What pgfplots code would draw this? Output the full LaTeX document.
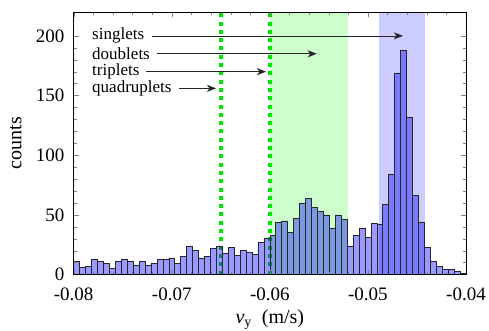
\documentclass[border=0pt]{standalone}
\usepackage{fontspec}
\setmainfont{Liberation Serif}
\usepackage{pgfplots}
\pgfplotsset{compat=1.18}
\usetikzlibrary{arrows.meta}
\definecolor{gshade}{HTML}{CCFFCC}
\definecolor{bshade}{HTML}{CCCCFF}
\definecolor{dgreen}{HTML}{00E600}
\newcommand{\fs}{\fontsize{17}{20}\selectfont}
\newcommand{\ft}{\fontsize{19}{22}\selectfont}
\newcommand{\fl}{\fontsize{20}{24}\selectfont}
\begin{document}
\begin{tikzpicture}
\begin{axis}[
  name=ax,
  scale only axis, width=392.3pt, height=262.5pt,
  xmin=-0.08, xmax=-0.04, ymin=0, ymax=220,
  xtick={-0.08,-0.07,-0.06,-0.05,-0.04},
  ytick={0,50,100,150,200},
  minor x tick num=4, minor y tick num=4,
  tick align=inside, major tick length=5pt, minor tick length=3pt,
  scaled x ticks=false,
  tick label style={font=\ft, inner sep=1pt},
  xticklabel style={yshift=-12pt, /pgf/number format/.cd, fixed, fixed zerofill, precision=2},
  yticklabel style={xshift=-8pt},
  /pgf/number format/assume math mode=true,
  label style={font=\fl},
  xlabel={\textit{v}\textsubscript{y}\ \ (m/s)},
  ylabel={counts},
  xlabel shift=4pt,
  ylabel shift=10pt,
  axis on top,
  clip=false,
]
% shaded regions
\addplot[draw=none, fill=gshade] coordinates {(-0.06,0) (-0.06,220) (-0.052,220) (-0.052,0)} -- cycle;
\addplot[draw=none, fill=bshade] coordinates {(-0.0489,0) (-0.0489,220) (-0.0442,220) (-0.0442,0)} -- cycle;
% dotted lines
\addplot[dgreen, line width=3.5pt, dash pattern=on 4pt off 4.3pt] coordinates {(-0.065,0) (-0.065,220)};
\addplot[dgreen, line width=3.5pt, dash pattern=on 4pt off 4.3pt] coordinates {(-0.06,0) (-0.06,220)};
% histogram
\addplot[ybar interval, fill=blue, fill opacity=0.4, draw=black!85, draw opacity=1, line width=0.6pt] table[row sep=\\] {
x y \\
-0.080000 11 \\
-0.079394 6 \\
-0.078788 7 \\
-0.078182 13 \\
-0.077576 11 \\
-0.076970 9 \\
-0.076364 5 \\
-0.075758 11 \\
-0.075152 13 \\
-0.074545 11 \\
-0.073939 8 \\
-0.073333 11 \\
-0.072727 8 \\
-0.072121 9 \\
-0.071515 13 \\
-0.070909 13 \\
-0.070303 14 \\
-0.069697 9 \\
-0.069091 15 \\
-0.068485 24 \\
-0.067879 20 \\
-0.067273 14 \\
-0.066667 15 \\
-0.066061 22 \\
-0.065455 24 \\
-0.064848 18 \\
-0.064242 23 \\
-0.063636 16 \\
-0.063030 20 \\
-0.062424 19 \\
-0.061818 17 \\
-0.061212 27 \\
-0.060606 30 \\
-0.060000 33 \\
-0.059394 44 \\
-0.058788 45 \\
-0.058182 35 \\
-0.057576 47 \\
-0.056970 60 \\
-0.056364 64 \\
-0.055758 56 \\
-0.055152 53 \\
-0.054545 50 \\
-0.053939 39 \\
-0.053333 50 \\
-0.052727 46 \\
-0.052121 24 \\
-0.051515 33 \\
-0.050909 39 \\
-0.050303 31 \\
-0.049697 43 \\
-0.049091 42 \\
-0.048485 59 \\
-0.047879 84 \\
-0.047273 169 \\
-0.046667 188 \\
-0.046061 132 \\
-0.045455 66 \\
-0.044848 44 \\
-0.044242 23 \\
-0.043636 11 \\
-0.043030 7 \\
-0.042424 4 \\
-0.041818 4 \\
-0.041212 3 \\
-0.040606 1 \\
-0.040000 1 \\
};
% annotations
\draw[-{Stealth[length=9pt,width=7pt,inset=2.5pt]}, line width=0.7pt, black!85] (axis cs:-0.07202,200) -- (axis cs:-0.04643,200);
\draw[-{Stealth[length=9pt,width=7pt,inset=2.5pt]}, line width=0.7pt, black!85] (axis cs:-0.07151,185) -- (axis cs:-0.05522,185);
\draw[-{Stealth[length=9pt,width=7pt,inset=2.5pt]}, line width=0.7pt, black!85] (axis cs:-0.07263,170) -- (axis cs:-0.06039,170);
\draw[-{Stealth[length=9pt,width=7pt,inset=2.5pt]}, line width=0.7pt, black!85] (axis cs:-0.06923,156) -- (axis cs:-0.06549,156);
\node[anchor=west, inner sep=0pt, font=\fs] at (axis cs:-0.07813,200) {singlets};
\node[anchor=west, inner sep=0pt, font=\fs] at (axis cs:-0.07813,185) {doublets};
\node[anchor=west, inner sep=0pt, font=\fs] at (axis cs:-0.07813,170) {triplets};
\node[anchor=west, inner sep=0pt, font=\fs] at (axis cs:-0.07813,156) {quadruplets};
\end{axis}
\pgfresetboundingbox
\path[use as bounding box] ([xshift=-73.7pt,yshift=-55.5pt]ax.south west) rectangle ([xshift=23pt,yshift=12pt]ax.north east);
\end{tikzpicture}
\end{document}
